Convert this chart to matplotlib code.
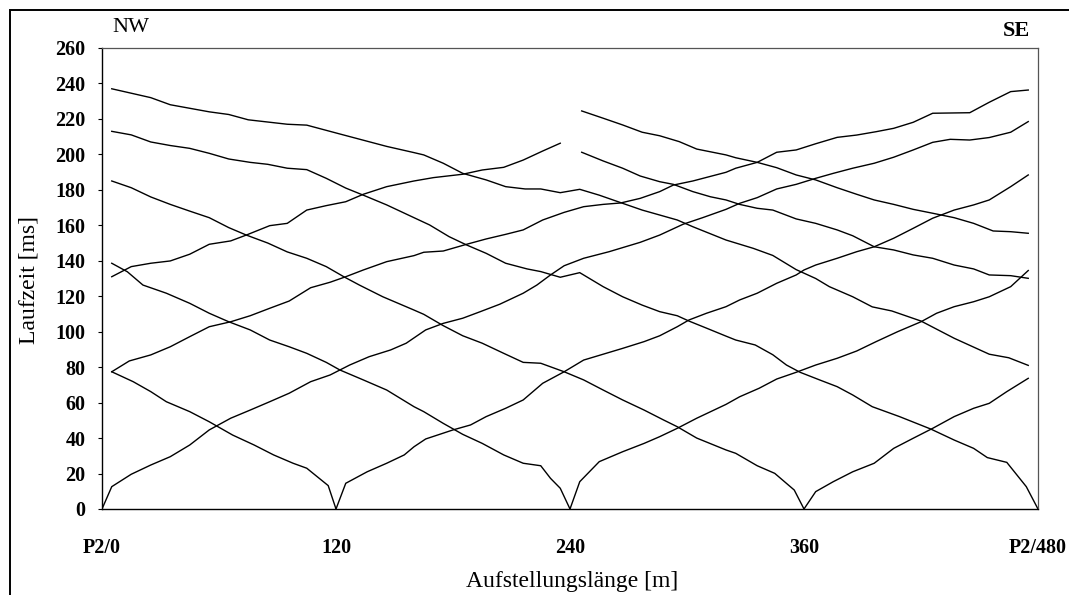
import matplotlib
matplotlib.use("Agg")
import matplotlib.pyplot as plt
from matplotlib.patches import Rectangle

plt.rcParams['font.family'] = ['Liberation Serif', 'DejaVu Serif']

# --- travel-time curves (x = position along spread [m], t = travel time [ms]) ---
# offset shot beyond SE end, recorded along the whole spread
x_l1 = [5, 15, 25, 35, 45, 55, 65, 75, 95, 105, 122, 146, 160, 165, 175, 185, 197, 207, 217, 225,
        235, 245, 255, 267, 277, 295, 303, 320, 334, 344, 356, 366, 373, 385, 395, 405, 420, 437,
        455, 465, 475]
t_l1 = [237, 234.5, 232, 228, 226, 224, 222.5, 219.5, 217, 216.5, 211.5, 204.5, 201, 199.7, 195,
        189.3, 185.6, 181.8, 180.5, 180.5, 178.4, 180.3, 177, 172.4, 168.6, 163, 159.2, 151.7, 147,
        143, 135, 130, 125.4, 119.7, 114, 111.7, 106, 96.3, 87.3, 85.3, 81]
# shot P2/480, reverse
x_l2 = [5, 15, 25, 35, 45, 55, 65, 76, 85, 95, 105, 115, 125, 134, 146, 160, 168, 178, 187, 197,
        207, 218, 225, 235, 245, 257, 267, 277, 286, 295, 301, 310, 320, 325, 335, 344, 351, 358,
        368, 377, 385, 395, 409, 425, 437, 447, 454, 464, 474, 480]
t_l2 = [213, 211, 207, 205, 203.4, 200.6, 197.4, 195.5, 194.4, 192.2, 191.4, 186.5, 181, 177,
        171.5, 164.3, 160.2, 153.6, 148.9, 144.2, 138.6, 135.4, 133.9, 130.7, 133.3, 125.4, 119.7,
        115, 111.3, 109, 106, 102, 97.5, 95.3, 92.5, 87, 81.2, 77.1, 72.8, 69, 64.3, 57.7, 52.1,
        45.1, 38.9, 34.2, 29, 26.3, 12.6, 0]
# shot 360, reverse
x_l3 = [5, 15, 25, 35, 45, 55, 65, 74, 85, 95, 105, 115, 124, 132, 144, 160, 165, 175, 185, 195,
        206, 216, 225, 237, 247, 257, 267, 278, 288, 295, 305, 320, 325, 336, 345, 355, 360]
t_l3 = [185, 181.2, 176, 171.8, 168, 164.3, 158.7, 154.5, 150, 145, 141.4, 136.7, 131, 126.3,
        119.7, 112.2, 109.8, 103.4, 97.7, 93.5, 87.8, 82.7, 82.2, 77.4, 72.8, 67.1, 61.5, 55.8,
        50.2, 46.4, 40, 33.3, 31.4, 24.4, 20.1, 10.7, 0]
# shot 240, reverse
x_l4 = [5, 13, 21, 33, 45, 55, 65, 76, 86, 96, 105, 115, 122, 134, 146, 160, 165, 175, 185, 195,
        206, 216, 225, 230, 235, 240]
t_l4 = [138.6, 133.8, 126.3, 121.7, 116, 110.4, 105.6, 101, 95.3, 91.5, 87.8, 82.7, 78.4, 72.8,
        67.1, 57.7, 54.9, 48.3, 42.1, 37, 30.5, 25.8, 24.4, 17.3, 11.7, 0]
# shot 120, reverse
x_l5 = [5, 16, 25, 33, 45, 55, 67, 78, 88, 98, 105, 116, 120]
t_l5 = [77.4, 71.8, 66.2, 60.5, 54.9, 49.2, 41.7, 36.1, 30.5, 25.8, 23, 13.2, 0]
# shot P2/0, forward
x_r1 = [0, 5, 15, 25, 35, 45, 55, 66, 76, 86, 96, 107, 117, 127, 137, 148, 156, 166, 175, 185,
        194, 204, 216, 223, 230, 237, 247, 260, 276, 286, 298, 308, 320, 327, 336, 346, 356, 366,
        375, 385, 396, 406, 416, 426, 435, 445, 455, 466, 475]
t_r1 = [0, 12.6, 19.6, 24.8, 29.5, 36.1, 44.6, 51.2, 55.8, 60.5, 65.3, 71.8, 75.6, 81.2, 85.9,
        89.7, 93.5, 101, 104.7, 107.6, 111.3, 115.5, 121.7, 126.3, 132, 137.2, 141.4, 145.1,
        150.4, 154.5, 160.6, 164.3, 169, 172.4, 175.6, 180.5, 183.1, 186.5, 189.3, 192.2, 195,
        198.4, 202.5, 206.8, 208.5, 208.1, 209.5, 212.5, 218.5]
# offset shot beyond NW end, recorded along the whole spread
x_r2 = [5, 14, 25, 35, 45, 55, 66, 76, 86, 96, 107, 117, 125, 134, 146, 160, 165, 175, 187, 197,
        207, 216, 226, 237, 247, 257, 266, 276, 286, 293, 303, 320, 325, 336, 346, 356, 366, 377,
        387, 397, 406, 416, 426, 445, 455, 466, 475]
t_r2 = [77.4, 83.5, 86.9, 91.5, 97.2, 102.8, 105.6, 109, 113.2, 117.3, 124.8, 127.9, 131, 134.8,
        139.5, 142.9, 144.8, 145.5, 149.3, 152.3, 154.9, 157.4, 163, 167.3, 170.5, 171.8, 172.6,
        175.2, 179, 182.7, 185, 189.9, 192.2, 195.5, 201.2, 202.5, 206, 209.6, 210.9, 212.8,
        214.7, 218.1, 223.2, 223.5, 229.4, 235.4, 236.3]
# far offset shot NW, first half of spread only
x_r3 = [5, 15, 25, 35, 45, 55, 66, 74, 86, 95, 105, 115, 125, 134, 146, 160, 170, 185, 195, 206,
        216, 226, 235]
t_r3 = [131, 136.7, 138.6, 139.9, 143.7, 149.3, 151.2, 154.5, 159.8, 161.1, 168.6, 171.1, 173.3,
        177.5, 181.8, 185, 186.9, 188.8, 191.2, 192.7, 196.8, 201.9, 206.3]
# shot 120, forward
x_r4 = [120, 125, 136, 146, 155, 160, 166, 180, 189, 197, 207, 216, 226, 237, 247, 257, 267, 278,
        286, 295, 301, 310, 320, 327, 336, 346, 356, 360, 366, 377, 387, 396, 406, 416, 426, 437,
        447, 455, 466, 475]
t_r4 = [0, 14.5, 21, 25.8, 30.5, 35.1, 39.5, 44.6, 47.4, 52.1, 56.8, 61.5, 70.9, 77.4, 84, 87.3,
        90.6, 94.4, 97.7, 102.8, 106.6, 110.4, 114.1, 117.9, 121.7, 127.3, 132, 134.8, 137.6,
        141.4, 145.1, 147.9, 152.7, 158.3, 164, 168.6, 171.5, 174.3, 181.8, 188.4]
# shot 240, forward
x_r5 = [240, 245, 255, 267, 278, 286, 295, 305, 320, 327, 337, 346, 356, 366, 377, 387, 397, 408,
        420, 428, 437, 447, 455, 466, 475]
t_r5 = [0, 15.4, 26.7, 32.3, 37, 40.8, 45.5, 51.2, 59, 63.3, 68.1, 73.3, 77.1, 81.2, 85, 89.1,
        94.4, 100, 105.6, 110.4, 114.1, 116.9, 119.7, 125.4, 134.5]
# shot 360, forward
x_r6 = [360, 366, 375, 385, 396, 406, 416, 426, 437, 447, 455, 464, 475]
t_r6 = [0, 9.8, 15.4, 21, 25.8, 34.2, 39.9, 45.5, 52.1, 56.8, 59.6, 66.2, 73.7]
# far offset shots SE, second half of spread only
x_d1 = [246, 257, 267, 277, 286, 296, 305, 320, 325, 336, 346, 356, 366, 377, 387, 396, 406, 416,
        426, 437, 447, 457, 466, 475]
t_d1 = [224.5, 220.4, 216.6, 212.5, 210.5, 207.2, 203, 199.7, 198.1, 195.5, 192.5, 188.4, 185.6,
        181.2, 177.5, 174.3, 171.8, 169, 166.8, 164.3, 161.1, 156.8, 156.4, 155.5]
x_d2 = [246, 257, 267, 276, 286, 293, 303, 312, 320, 327, 336, 344, 356, 366, 377, 385, 396, 406,
        416, 426, 437, 447, 455, 466, 475]
t_d2 = [201.2, 196.3, 192.2, 187.8, 184.6, 183.1, 179, 176.1, 174.3, 171.8, 169.6, 168.6, 163.6,
        161.1, 157.4, 154.1, 147.9, 146.1, 143.3, 141.4, 137.6, 135.4, 132, 131.6, 130.1]

curves = [(x_l1, t_l1), (x_l2, t_l2), (x_l3, t_l3), (x_l4, t_l4), (x_l5, t_l5),
          (x_r1, t_r1), (x_r2, t_r2), (x_r3, t_r3), (x_r4, t_r4), (x_r5, t_r5), (x_r6, t_r6),
          (x_d1, t_d1), (x_d2, t_d2)]

xtick_pos = [0, 120, 240, 360, 480]
xtick_lab = ["P2/0", "120", "240", "360", "P2/480"]
ytick_pos = list(range(0, 261, 20))

fig = plt.figure(figsize=(10.69, 5.95), dpi=100)
ax = fig.add_axes([102/1069, 1 - 509/595, 936/1069, 461/595])

for xs, ts in curves:
    ax.plot(xs, ts, color="black", lw=1.0, solid_joinstyle="miter")

ax.set_xlim(0, 480)
ax.set_ylim(0, 260)
ax.set_xticks(xtick_pos)
ax.set_xticklabels(xtick_lab)
ax.set_yticks(ytick_pos)
ax.tick_params(axis="x", length=0, pad=21, labelsize=14.5)
ax.tick_params(axis="y", length=3, width=0.8, direction="out", pad=9, labelsize=14.5)
for lab in ax.get_xticklabels() + ax.get_yticklabels():
    lab.set_fontweight("bold")
for s in ["top", "right"]:
    ax.spines[s].set_color("#555555")
    ax.spines[s].set_linewidth(0.9)
for s in ["left", "bottom"]:
    ax.spines[s].set_linewidth(1.0)

fig.text(572/1069, 1 - 581/595, "Aufstellungslänge [m]", ha="center", va="center", fontsize=17)
fig.text(29/1069, 1 - 280/595, "Laufzeit [ms]", ha="center", va="center", rotation=90, fontsize=17)
fig.text(131/1069, 1 - 28/595, "NW", ha="center", va="center", fontsize=16)
fig.text(1016/1069, 1 - 31/595, "SE", ha="center", va="center", fontsize=16, fontweight="bold")

# outer frame (cut at right and bottom in the original)
fig.patches.append(Rectangle((10/1069, -0.1), 1.2, 1.1 - 10/595, transform=fig.transFigure,
                             fill=False, lw=1.4, color="black"))

fig.savefig("out.png", dpi=100)
